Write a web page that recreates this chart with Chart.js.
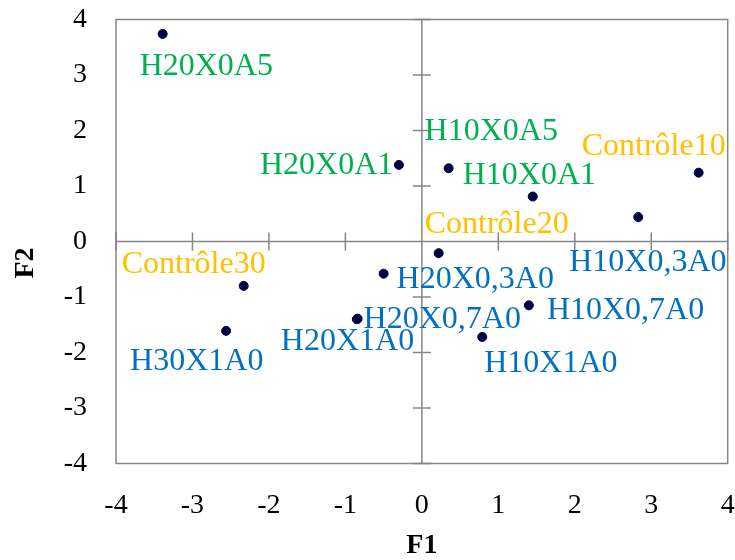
<!DOCTYPE html>
<html>
<head>
<meta charset="utf-8">
<script src="https://cdn.jsdelivr.net/npm/chart.js@4/dist/chart.umd.min.js"></script>
<style>
  html, body { margin: 0; padding: 0; background: #fff; }
  #wrap { width: 735px; height: 560px; }
</style>
</head>
<body>
<div id="wrap"><canvas id="acp" width="735" height="560"></canvas></div>
<script>
// individus de l'ACP (plan F1 x F2)
const names = ['H20X0A5', 'H20X0A1', 'H10X0A5', 'H10X0A1', 'Contrôle10', 'H10X0,3A0', 'Contrôle20',
  'H20X0,3A0', 'H10X0,7A0', 'H10X1A0', 'H20X0,7A0', 'H20X1A0', 'Contrôle30', 'H30X1A0'];
const f1 = [-3.39, -0.30, 0.35, 1.45, 3.62, 2.83, 0.22, -0.50, 1.40, 0.79, -0.84, -0.85, -2.33, -2.56];
const f2 = [3.74, 1.38, 1.32, 0.81, 1.24, 0.44, -0.21, -0.58, -1.15, -1.72, -1.39, -1.40, -0.80, -1.61];
const groups = ['acide', 'acide', 'acide', 'acide', 'controle', 'xylane', 'controle',
  'xylane', 'xylane', 'xylane', 'xylane', 'xylane', 'controle', 'xylane'];
const axisTicks = [-4, -3, -2, -1, 0, 1, 2, 3, 4];

const groupColor = { acide: '#00B050', controle: '#FFC000', xylane: '#0070C0' };
// décalage de chaque étiquette (bord gauche, ligne de base) par rapport au point
const labelPos = [[-23, 41], [-139, 9], [-24, -28], [-70, -13], [-117, -18], [-69, 54], [-14, -20],
  [13, 14], [18, 14], [2, 35], [6, 9], [-76, 31], [-122, -13], [-96, 39]];

const SERIF = '"Liberation Serif", "Times New Roman", serif';

const pcaFrame = {
  id: 'pcaFrame',
  beforeDatasetsDraw(chart) {
    const { ctx, chartArea: a, scales: { x, y } } = chart;
    const x0 = x.getPixelForValue(0), y0 = y.getPixelForValue(0);
    ctx.save();
    ctx.strokeStyle = '#868686';
    ctx.lineWidth = 1.5;
    ctx.strokeRect(a.left, a.top, a.right - a.left, a.bottom - a.top);
    ctx.beginPath();
    ctx.moveTo(x0, a.top); ctx.lineTo(x0, a.bottom);
    ctx.moveTo(a.left, y0); ctx.lineTo(a.right, y0);
    axisTicks.forEach(v => {
      if (v === 0) return;
      const px = x.getPixelForValue(v), py = y.getPixelForValue(v);
      ctx.moveTo(px, y0 - 9); ctx.lineTo(px, y0 + 9);
      ctx.moveTo(x0 - 9, py); ctx.lineTo(x0 + 9, py);
    });
    ctx.stroke();

    // titre de l'axe vertical
    ctx.translate(26, 263);
    ctx.rotate(-Math.PI / 2);
    ctx.fillStyle = '#000';
    ctx.font = 'bold 28px ' + SERIF;
    ctx.textAlign = 'center';
    ctx.textBaseline = 'middle';
    ctx.fillText('F2', 0, 0);
    ctx.restore();
  },
  afterDatasetsDraw(chart) {
    const { ctx } = chart;
    const pts = chart.getDatasetMeta(0).data;
    ctx.save();
    ctx.font = '32px ' + SERIF;
    ctx.textAlign = 'left';
    ctx.textBaseline = 'alphabetic';
    pts.forEach((p, i) => {
      ctx.fillStyle = groupColor[groups[i]];
      ctx.fillText(names[i], p.x + labelPos[i][0], p.y + labelPos[i][1]);
    });
    ctx.restore();
  }
};

// pas de marge automatique pour les étiquettes qui débordent
const noOverhang = s => {
  s.paddingTop = 0; s.paddingBottom = 0; s.paddingLeft = 0; s.paddingRight = 0;
};

const tickSetup = {
  min: -4,
  max: 4,
  afterBuildTicks: s => { s.ticks = axisTicks.map(v => ({ value: v })); },
  grid: { display: false },
  border: { display: false }
};

new Chart(document.getElementById('acp'), {
  type: 'scatter',
  data: {
    datasets: [{
      data: f1.map((v, i) => ({ x: v, y: f2[i] })),
      backgroundColor: '#000046',
      borderColor: '#000030',
      borderWidth: 1,
      pointRadius: 4.5
    }]
  },
  options: {
    responsive: false,
    animation: false,
    layout: { padding: { top: 19.5, right: 7.3, left: 0, bottom: 0 } },
    plugins: { legend: { display: false }, tooltip: { enabled: false } },
    scales: {
      x: {
        ...tickSetup,
        afterFit: s => { s.height = 96.5; noOverhang(s); },
        ticks: { color: '#000', padding: 17, maxRotation: 0, font: { family: SERIF, size: 28 } },
        title: {
          display: true, text: 'F1', color: '#000', padding: 0,
          font: { family: SERIF, size: 28, weight: 'bold', lineHeight: 1 }
        }
      },
      y: {
        ...tickSetup,
        afterFit: s => { s.width = 116; noOverhang(s); },
        ticks: { color: '#000', padding: 21, font: { family: SERIF, size: 28 } }
      }
    }
  },
  plugins: [pcaFrame]
});
</script>
</body>
</html>
